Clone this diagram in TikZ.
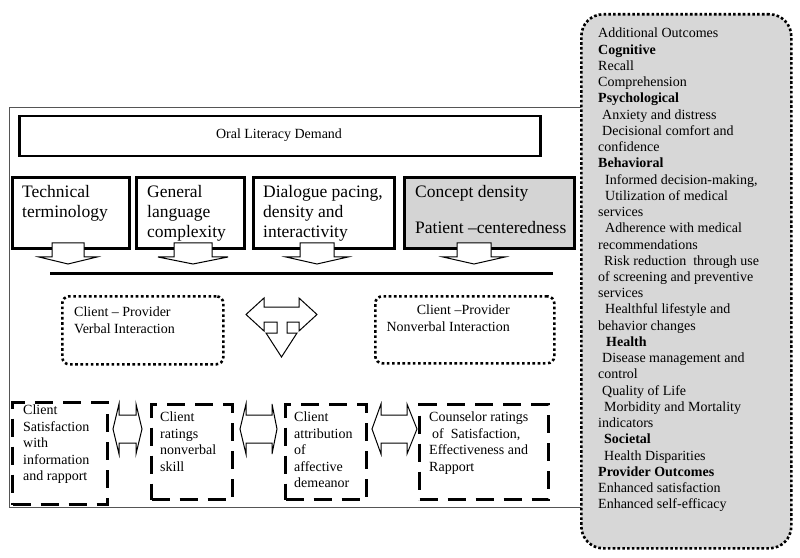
\documentclass[tikz,border=0pt]{standalone}
\usepackage{fontspec}
\setmainfont{Liberation Serif}
\definecolor{boxgray}{HTML}{D4D4D4}
\definecolor{panelgray}{HTML}{D7D7D7}
\definecolor{framegray}{HTML}{555555}
\begin{document}
\begin{tikzpicture}[x=1bp,y=-1bp,
  framebox/.style={draw=framegray, line width=1.2bp, inner sep=0pt, anchor=north west},
  olbox/.style={draw, line width=2.5bp, inner sep=0pt, anchor=north west},
  topbox/.style={draw, line width=3bp, inner sep=0pt, anchor=north west},
  dotbox/.style={draw, line width=2.6bp, dash pattern=on 2.6bp off 2.6bp, rounded corners=7bp, inner sep=0pt, anchor=north west},
  dashbox/.style={draw, line width=3bp, dash pattern=on 18bp off 10bp, inner sep=0pt, anchor=north west},
  panel/.style={draw, fill=panelgray, line width=2.6bp, dash pattern=on 2.6bp off 2.2bp, rounded corners=22bp, inner sep=0pt, anchor=north west},
  blockarrow/.style={draw, fill=white, line width=1bp, line join=miter},
  bigtxt/.style={inner sep=0pt, anchor=north west, align=left, font=\fontsize{17.5bp}{20bp}\selectfont},
  txt/.style={inner sep=0pt, anchor=north west, align=left, font=\fontsize{14bp}{16.5bp}\selectfont},
  paneltxt/.style={inner sep=0pt, anchor=north west, align=left, font=\fontsize{14bp}{16.24bp}\selectfont}
]
\useasboundingbox (0,0) rectangle (800,558);
\fill[white] (0,0) rectangle (800,558);

% outer frame
\node[framebox, minimum width=576bp, minimum height=400bp] (frame) at (9,107) {};

% Oral literacy demand
\node[olbox, minimum width=521bp, minimum height=40bp] (old) at (18,115) {};
\node[txt, anchor=center] (oldt) at (279,135) {Oral Literacy Demand};

% top boxes
\node[topbox, minimum width=117bp, minimum height=71bp] (b1) at (11,176) {};
\node[topbox, minimum width=108bp, minimum height=71bp] (b2) at (135,176) {};
\node[topbox, minimum width=141bp, minimum height=71bp] (b3) at (252,176) {};
\node[topbox, fill=boxgray, minimum width=170bp, minimum height=71bp] (b4) at (403,176) {};
\node[bigtxt] (b1t) at (22,185) {Technical\\terminology};
\node[bigtxt] (b2t) at (147,185) {General\\language\\complexity};
\node[bigtxt] (b3t) at (263,185) {Dialogue pacing,\\density and\\interactivity};
\node[bigtxt] (b4t) at (415,185) {Concept density};
\node[bigtxt] (b4u) at (415,221) {Patient \textendash centeredness};

% down block arrows
\foreach \cx/\sw/\hw in {68/16/29, 193/19/35, 317/17/31, 474/17/31} {
  \draw[blockarrow] (\cx-\sw,243) -- (\cx+\sw,243) -- (\cx+\sw,257) -- (\cx+\hw,257)
    -- (\cx,264) -- (\cx-\hw,257) -- (\cx-\sw,257) -- cycle;
}

% thick bar
\coordinate (barl) at (50,274);
\coordinate (barr) at (553,274);
\draw[line width=3bp] (barl) -- (barr);

% interaction boxes
\node[dotbox, minimum width=161bp, minimum height=68bp] (verb) at (61,295) {};
\node[dotbox, minimum width=179bp, minimum height=67bp] (nonv) at (374,295) {};
\node[txt] (verbt) at (74,307) {Client \textendash{} Provider\\Verbal Interaction};
\node[txt, align=right, anchor=north east] (nonvt) at (510,305) {Client \textendash Provider\\Nonverbal Interaction};

% three-way block arrow
\draw[blockarrow] (246,314.5) -- (264,298) -- (264,307) -- (299,307) -- (299,298) -- (317,314.5)
  -- (299,331) -- (299,322) -- (287,322) -- (287,333) -- (297,333) -- (281.5,357)
  -- (266,333) -- (277,333) -- (277,322) -- (264,322) -- (264,331) -- cycle;

% outcome boxes
\node[dashbox, minimum width=95bp, minimum height=102bp] (o1) at (11,401) {};
\node[dashbox, minimum width=81bp, minimum height=95bp] (o2) at (150,403) {};
\node[dashbox, minimum width=81bp, minimum height=95bp] (o3) at (284,403) {};
\node[dashbox, minimum width=129bp, minimum height=95bp] (o4) at (418,403) {};
\node[txt] (o1t) at (23,405) {Client\\Satisfaction\\with\\information\\and rapport};
\node[txt] (o2t) at (160,412) {Client\\ratings\\nonverbal\\skill};
\node[txt] (o3t) at (294,412) {Client\\attribution\\of\\affective\\demeanor};
\node[txt] (o4t) at (429,412) {Counselor ratings\\\hspace*{3bp}of \ Satisfaction,\\Effectiveness and\\Rapport};

% double block arrows
\foreach \l/\bl/\br/\r in {113/119/136/142, 240/246/272/277, 372/381/407/417} {
  \draw[blockarrow] (\l,429) -- (\bl,404) -- (\bl,415) -- (\br,415) -- (\br,404) -- (\r,429)
    -- (\br,454) -- (\br,443) -- (\bl,443) -- (\bl,454) -- cycle;
}

% right panel
\node[panel, minimum width=210bp, minimum height=534bp] (pan) at (580,13) {};
\node[paneltxt] (pant) at (598,28) {Additional Outcomes\\
\textbf{Cognitive}\\
Recall\\
Comprehension\\
\textbf{Psychological}\\
\hspace*{4bp}Anxiety and distress\\
\hspace*{4bp}Decisional comfort and\\
confidence\\
\textbf{Behavioral}\\
\hspace*{7bp}Informed decision-making,\\
\hspace*{7bp}Utilization of medical\\
services\\
\hspace*{7bp}Adherence with medical\\
recommendations\\
\hspace*{6bp}Risk reduction \ through use\\
of screening and preventive\\
services\\
\hspace*{7bp}Healthful lifestyle and\\
behavior changes\\
\hspace*{8bp}\textbf{Health}\\
\hspace*{4bp}Disease management and\\
control\\
\hspace*{4bp}Quality of Life\\
\hspace*{6bp}Morbidity and Mortality\\
indicators\\
\hspace*{6bp}\textbf{Societal}\\
\hspace*{6bp}Health Disparities\\
\textbf{Provider Outcomes}\\
Enhanced satisfaction\\
Enhanced self-efficacy};
\end{tikzpicture}
\end{document}
